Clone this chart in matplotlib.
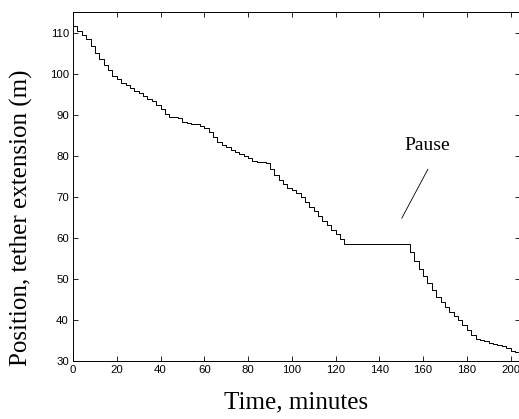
import numpy as np
import matplotlib
matplotlib.use("Agg")
import matplotlib.pyplot as plt

# time in minutes (one winch step about every 2 min)
minutes = np.arange(0, 206, 2)

# tether extension in metres at each step
position = [
    111.5, 110.4, 109.5, 108.3, 106.6, 105.0, 103.6, 102.2, 100.8, 99.5,
    98.6, 97.8, 97.2, 96.5, 95.8, 95.2, 94.5, 93.8, 93.2, 92.3,
    91.4, 90.2, 89.4, 89.4, 89.3, 88.3, 88.0, 87.8, 87.6, 87.2,
    86.7, 85.8, 84.5, 83.4, 82.7, 82.0, 81.5, 81.0, 80.5, 80.0,
    79.4, 78.7, 78.4, 78.4, 78.3, 76.8, 75.4, 74.2, 73.0, 72.2,
    71.6, 71.0, 69.9, 68.8, 67.6, 66.5, 65.4, 64.2, 63.1, 62.0,
    60.9, 59.8, 58.6, 58.6, 58.6, 58.6, 58.6, 58.6, 58.6, 58.6,
    58.6, 58.6, 58.6, 58.6, 58.6, 58.6, 58.6, 56.6, 54.3, 52.3,
    50.6, 49.0, 47.3, 45.7, 44.4, 43.2, 42.0, 41.0, 39.9, 38.7,
    37.6, 36.4, 35.4, 35.0, 34.8, 34.5, 34.2, 33.9, 33.7, 33.2,
    32.4, 32.2, 32.1,
]

pause_line_x = [150.3, 162.2]
pause_line_y = [64.8, 76.7]

fig = plt.figure(figsize=(5.19, 4.19), dpi=100)
ax = fig.add_axes([0.1407, 0.1384, 0.8612, 0.833])

ax.plot(minutes, position, drawstyle="steps-post", color="black", linewidth=0.7)
ax.plot(pause_line_x, pause_line_y, color="black", linewidth=0.6)
ax.text(162, 82.5, "Pause", family="Liberation Serif", fontsize=14,
        ha="center", va="center")

ax.set_xlim(0, 204.3)
ax.set_ylim(30, 115)
ax.set_xticks(np.arange(0, 201, 20))
ax.set_yticks(np.arange(30, 111, 10))

ax.tick_params(direction="in", length=3.5, width=0.6, top=True, right=True,
               labelsize=8.2, pad=3)
for lab in ax.get_xticklabels() + ax.get_yticklabels():
    lab.set_family("Liberation Sans")
for sp in ax.spines.values():
    sp.set_linewidth(0.7)

ax.set_xlabel("Time, minutes", family="Liberation Serif", fontsize=18,
              labelpad=12)
ax.set_ylabel("Position, tether extension (m)", family="Liberation Serif",
              fontsize=18)
ax.yaxis.set_label_coords(-0.09, 0.41)

fig.savefig("out.png", dpi=100)
